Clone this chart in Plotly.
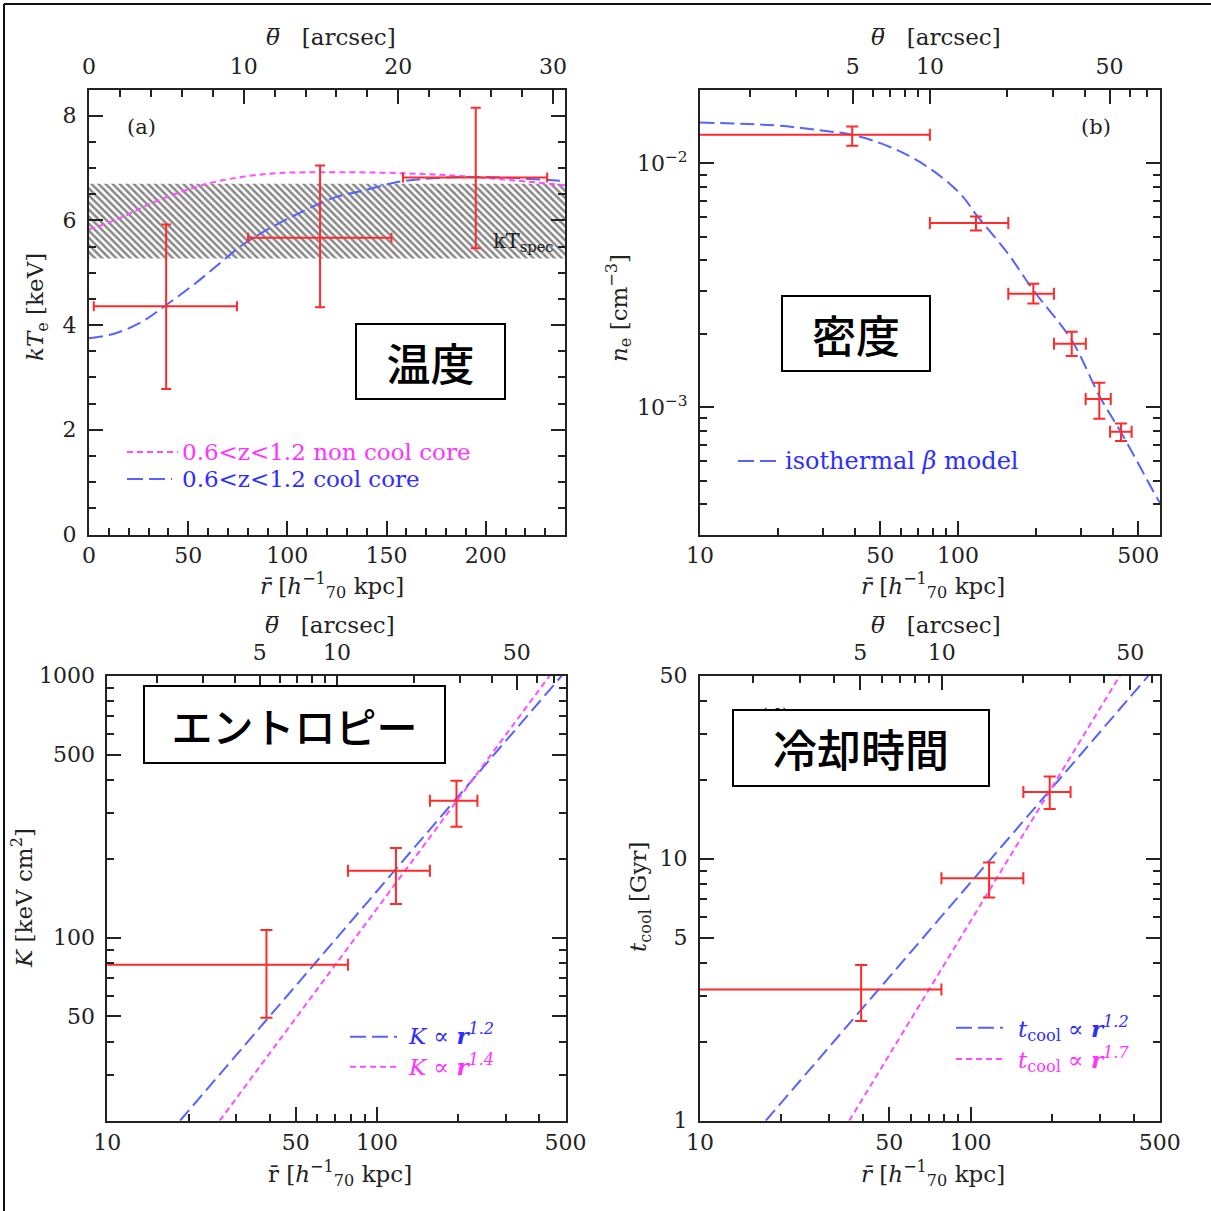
import plotly.graph_objects as go

# ---------------- data ----------------
# Panel (a) temperature profile (linear axes)
a_r = [38.9, 116.5, 195.0]
a_r_lo = [2.4, 80.2, 158.3]
a_r_hi = [74.6, 152.5, 231.0]
a_T = [4.36, 5.67, 6.82]
a_T_lo = [2.78, 4.34, 5.47]
a_T_hi = [5.92, 7.05, 8.15]
a_spec_r = [0, 240]
a_spec_T = [5.27, 6.70]
a_ncc_r = [0, 14.8, 31.6, 48.4, 65.2, 90.4, 116.5, 158.5, 193.8, 240]
a_ncc_T = [5.83, 6.03, 6.33, 6.57, 6.75, 6.89, 6.92, 6.90, 6.83, 6.67]
a_cc_r = [0, 13.1, 26.6, 38.8, 53.4, 66.9, 77.0, 92.1, 105.5, 124.0, 138.3, 158.5, 193.8, 240]
a_cc_T = [3.75, 3.84, 4.06, 4.38, 4.79, 5.21, 5.52, 5.87, 6.13, 6.44, 6.57, 6.75, 6.83, 6.75]

# Panel (b) density profile
b_r = [38.9, 117.4, 195.9, 276, 353, 428.5]
b_r_lo = [1.0, 77.8, 156.7, 235.5, 312.5, 388.6]
b_r_hi = [77.8, 156.7, 235.5, 313, 391, 471]
b_n = [0.01312, 0.00569, 0.00292, 0.00182, 0.00108, 0.000793]
b_n_lo = [0.01183, 0.00531, 0.00266, 0.00162, 0.000896, 0.000726]
b_n_hi = [0.01419, 0.00606, 0.00321, 0.00204, 0.00126, 0.000857]
b_beta_r = [10, 19.5, 29.6, 38.7, 50.6, 64.1, 81.5, 103.3, 118.2, 154.5, 195.9, 276, 355, 431, 597, 607]
b_beta_n = [0.01472, 0.01432, 0.01365, 0.01312, 0.01205, 0.01078, 0.00921, 0.00740, 0.00612,
            0.00433, 0.00302, 0.00188, 0.00110, 0.00078, 0.000416, 0.000405]

# Panel (c) entropy profile
c_r = [38.9, 117.5, 197]
c_r_lo = [1.0, 78, 157]
c_r_hi = [78, 157, 235.6]
c_K = [78.7, 180, 333]
c_K_lo = [49.4, 134.5, 265]
c_K_hi = [107, 220, 397]
c_fit12_r = [18.6, 484]
c_fit12_K = [20, 1000]
c_fit14_r = [26.1, 436.5]
c_fit14_K = [20, 1000]

# Panel (d) cooling time profile
d_r = [39.4, 117, 196]
d_r_lo = [1.0, 78, 156.6]
d_r_hi = [78, 156.6, 234]
d_t = [3.17, 8.42, 18.0]
d_t_lo = [2.40, 7.12, 15.5]
d_t_hi = [3.93, 9.68, 20.6]
d_fit12_r = [17.5, 454]
d_fit12_t = [1, 50]
d_fit17_r = [35.6, 356]
d_fit17_t = [1, 50]

# tick labels
a_xticks = [0, 50, 100, 150, 200]
a_yticks = [0, 2, 4, 6, 8]
a_topticks = [0, 10, 20, 30]
log_rticks = [10, 50, 100, 500]
log_rminor = [20, 30, 40, 60, 70, 80, 90, 200, 300, 400]
log_thticks = [5, 10, 50]
log_thminor = [2, 3, 4, 6, 7, 8, 9, 20, 30, 40, 60, 70]
b_yticks = [1e-2, 1e-3]
b_yticktext = ["10<sup>−2</sup>", "10<sup>−3</sup>"]
b_yminor = [4e-4, 5e-4, 6e-4, 7e-4, 8e-4, 9e-4, 2e-3, 3e-3, 4e-3, 5e-3, 6e-3, 7e-3, 8e-3, 9e-3]
c_yticks = [50, 100, 500, 1000]
c_yminor = [30, 40, 60, 70, 80, 90, 200, 300, 400, 600, 700, 800, 900]
d_yticks = [1, 5, 10, 50]
d_yminor = [2, 3, 4, 6, 7, 8, 9, 20, 30, 40]

# ---------------- styling ----------------
W = H = 1211
def px(x): return x / W
def py(y): return 1 - y / H

RED = "#ff2a2a"
BLUE = "#5563ff"
MAG = "#ff4dff"
BLUE_T = "#2e2eff"
MAG_T = "#ff33ff"
AX = "#222222"
SERIF = "DejaVu Serif"
CJK = "Noto Sans CJK JP"
TICKF = dict(family=SERIF, size=22, color=AX)

fig = go.Figure()

def err_trace(x, xlo, xhi, y, ylo, yhi, xa, ya, capw):
    return go.Scatter(
        x=x, y=y, mode="markers", xaxis=xa, yaxis=ya,
        marker=dict(size=2, color=RED, opacity=0),
        error_x=dict(type="data", symmetric=False,
                     array=[h - v for h, v in zip(xhi, x)],
                     arrayminus=[v - l for l, v in zip(xlo, x)],
                     color=RED, thickness=2, width=capw),
        error_y=dict(type="data", symmetric=False,
                     array=[h - v for h, v in zip(yhi, y)],
                     arrayminus=[v - l for l, v in zip(ylo, y)],
                     color=RED, thickness=2, width=capw),
        showlegend=False, hoverinfo="skip")

# (a) hatched kT_spec band
fig.add_trace(go.Scatter(
    x=[a_spec_r[0], a_spec_r[1], a_spec_r[1], a_spec_r[0], a_spec_r[0]],
    y=[a_spec_T[0], a_spec_T[0], a_spec_T[1], a_spec_T[1], a_spec_T[0]],
    fill="toself", mode="lines", line=dict(width=0, color="rgba(0,0,0,0)"),
    fillcolor="rgba(0,0,0,0)",
    fillpattern=dict(shape="\\", fgcolor="#111111", bgcolor="white", size=5, solidity=0.5),
    xaxis="x", yaxis="y", showlegend=False, hoverinfo="skip"))
fig.add_trace(go.Scatter(x=a_ncc_r, y=a_ncc_T, mode="lines", line=dict(color=MAG, width=2, dash="6px,4px", shape="spline"),
                         xaxis="x", yaxis="y", showlegend=False))
fig.add_trace(go.Scatter(x=a_cc_r, y=a_cc_T, mode="lines", line=dict(color=BLUE, width=2, dash="14px,6px", shape="spline"),
                         xaxis="x", yaxis="y", showlegend=False))
fig.add_trace(err_trace(a_r, a_r_lo, a_r_hi, a_T, a_T_lo, a_T_hi, "x", "y", 5))

# (b)
fig.add_trace(go.Scatter(x=b_beta_r, y=b_beta_n, mode="lines", line=dict(color=BLUE, width=2, dash="14px,6px", shape="spline"),
                         xaxis="x2", yaxis="y2", showlegend=False))
fig.add_trace(err_trace(b_r, b_r_lo, b_r_hi, b_n, b_n_lo, b_n_hi, "x2", "y2", 6))

# (c)
fig.add_trace(go.Scatter(x=c_fit12_r, y=c_fit12_K, mode="lines", line=dict(color=BLUE, width=2, dash="14px,6px"),
                         xaxis="x3", yaxis="y3", showlegend=False))
fig.add_trace(go.Scatter(x=c_fit14_r, y=c_fit14_K, mode="lines", line=dict(color=MAG, width=2, dash="6px,4px"),
                         xaxis="x3", yaxis="y3", showlegend=False))
fig.add_trace(err_trace(c_r, c_r_lo, c_r_hi, c_K, c_K_lo, c_K_hi, "x3", "y3", 6))

# (d)
fig.add_trace(go.Scatter(x=d_fit12_r, y=d_fit12_t, mode="lines", line=dict(color=BLUE, width=2, dash="14px,6px"),
                         xaxis="x4", yaxis="y4", showlegend=False))
fig.add_trace(go.Scatter(x=d_fit17_r, y=d_fit17_t, mode="lines", line=dict(color=MAG, width=2, dash="6px,4px"),
                         xaxis="x4", yaxis="y4", showlegend=False))
fig.add_trace(err_trace(d_r, d_r_lo, d_r_hi, d_t, d_t_lo, d_t_hi, "x4", "y4", 6))

# empty traces to activate top axes
for xa, ya in [("x5", "y"), ("x6", "y2"), ("x7", "y3"), ("x8", "y4")]:
    fig.add_trace(go.Scatter(x=[], y=[], xaxis=xa, yaxis=ya, showlegend=False))

def ax(**kw):
    base = dict(showgrid=False, zeroline=False, showline=True, linecolor=AX, linewidth=2,
                ticks="inside", ticklen=14, tickwidth=1.5, tickcolor=AX, tickfont=TICKF,
                automargin=False)
    base.update(kw)
    return base

def minor(vals):
    return dict(tickmode="array", tickvals=vals, ticks="inside", ticklen=7, tickwidth=1.5, tickcolor=AX, showgrid=False)

dom_a_x = [px(89), px(565)]
dom_b_x = [px(700), px(1160)]
dom_c_x = [px(107.3), px(565.6)]
dom_d_x = [px(700), px(1159.8)]
dom_top_y = [py(534.5), py(89.5)]
dom_bot_y = [py(1120.7), py(675.7)]

fig.update_layout(
    width=W, height=H, margin=dict(l=0, r=0, t=0, b=0, autoexpand=False),
    paper_bgcolor="white", plot_bgcolor="white", showlegend=False,
    # panel (a)
    xaxis=ax(domain=dom_a_x, anchor="y", range=[0, 240], tickmode="array", tickvals=a_xticks,
             minor=minor([v for v in range(10, 240, 10) if v % 50]), ticklabelstandoff=0),
    yaxis=ax(domain=dom_top_y, anchor="x", range=[0, 8.5], tickmode="array", tickvals=a_yticks,
             minor=minor([v / 2 for v in range(1, 17) if v % 4]), mirror="ticks", ticklabelstandoff=6),
    xaxis5=ax(overlaying="x", anchor="y", side="top", range=[0, 30.78], tickmode="array", tickvals=a_topticks,
              minor=minor([v for v in range(2, 31, 2) if v % 10]), ticklabelstandoff=5),
    # panel (b)
    xaxis2=ax(domain=dom_b_x, anchor="y2", type="log", range=[1, 2.783], tickmode="array", tickvals=log_rticks,
              ticktext=[str(v) for v in log_rticks], minor=minor(log_rminor), ticklabelstandoff=0),
    yaxis2=ax(domain=dom_top_y, anchor="x2", type="log", range=[-3.5225, -1.6967], tickmode="array",
              tickvals=b_yticks, ticktext=b_yticktext, minor=minor(b_yminor), mirror="ticks", ticklabelstandoff=6),
    xaxis6=ax(overlaying="x2", anchor="y2", side="top", type="log", range=[0.105, 1.895], tickmode="array",
              tickvals=log_thticks, ticktext=[str(v) for v in log_thticks], minor=minor(log_thminor),
              ticklabelstandoff=5),
    # panel (c)
    xaxis3=ax(domain=dom_c_x, anchor="y3", type="log", range=[1, 2.699], tickmode="array", tickvals=log_rticks,
              ticktext=[str(v) for v in log_rticks], minor=minor(log_rminor), ticklabelstandoff=1),
    yaxis3=ax(domain=dom_bot_y, anchor="x3", type="log", range=[1.301, 3], tickmode="array", tickvals=c_yticks,
              ticktext=[str(v) for v in c_yticks], minor=minor(c_yminor), mirror="ticks", ticklabelstandoff=6),
    xaxis7=ax(overlaying="x3", anchor="y3", side="top", type="log", range=[0.106, 1.8895], tickmode="array",
              tickvals=log_thticks, ticktext=[str(v) for v in log_thticks], minor=minor(log_thminor),
              ticklabelstandoff=5),
    # panel (d)
    xaxis4=ax(domain=dom_d_x, anchor="y4", type="log", range=[1, 2.699], tickmode="array", tickvals=log_rticks,
              ticktext=[str(v) for v in log_rticks], minor=minor(log_rminor), ticklabelstandoff=1),
    yaxis4=ax(domain=dom_bot_y, anchor="x4", type="log", range=[0, 1.699], tickmode="array", tickvals=d_yticks,
              ticktext=[str(v) for v in d_yticks], minor=minor(d_yminor), mirror="ticks", ticklabelstandoff=6),
    xaxis8=ax(overlaying="x4", anchor="y4", side="top", type="log", range=[0.105, 1.808], tickmode="array",
              tickvals=log_thticks, ticktext=[str(v) for v in log_thticks], minor=minor(log_thminor),
              ticklabelstandoff=5),
)

shapes = [
    # outer frame (top and left edges visible)
    dict(type="line", xref="paper", yref="paper", x0=px(4), x1=1.0, y0=py(4), y1=py(4), line=dict(color="#111", width=2)),
    dict(type="line", xref="paper", yref="paper", x0=px(4), x1=px(4), y0=py(4), y1=0, line=dict(color="#111", width=2)),
]

def leg_line(x0, x1, y, color, dash):
    return dict(type="line", xref="paper", yref="paper", x0=px(x0), x1=px(x1), y0=py(y), y1=py(y),
                line=dict(color=color, width=2, dash=dash))

shapes += [
    leg_line(127, 178, 452, MAG, "6px,4px"),
    leg_line(127, 172, 479, BLUE, "16px,6px"),
    leg_line(738, 780, 461, BLUE, "16px,6px"),
    leg_line(350, 397, 1036.7, BLUE, "16px,6px"),
    leg_line(350, 397, 1066.7, MAG, "6px,4px"),
    leg_line(956, 1003, 1027.7, BLUE, "16px,6px"),
    leg_line(956, 1003, 1059, MAG, "6px,4px"),
]
fig.update_layout(shapes=shapes)

def note(x, y, text, color=AX, size=20, family=SERIF, xanchor="center", **kw):
    return dict(xref="paper", yref="paper", x=px(x), y=py(y), text=text, showarrow=False,
                font=dict(family=family, size=size, color=color), xanchor=xanchor, yanchor="middle", **kw)

def jbox(x0, x1, y0, y1, text, size=44):
    return dict(xref="paper", yref="paper", x=px((x0 + x1) / 2), y=py((y0 + y1) / 2), text=text,
                showarrow=False, font=dict(family=CJK, size=size, color="black", weight=500),
                xanchor="center", yanchor="middle", bgcolor="white", bordercolor="black", borderwidth=2,
                borderpad=0, width=x1 - x0 - 4, height=y1 - y0 - 4)

R_TITLE = "<i>r̄</i> [<i>h</i><sup>−1</sup><sub>70</sub> kpc]"
R_TITLE_C = "r̄ [<i>h</i><sup>−1</sup><sub>70</sub> kpc]"
TH_TITLE = "<i>θ̅</i>   [arcsec]"

annotations = [
    # axis titles
    note(331, 37, TH_TITLE, size=23),
    note(332, 585, R_TITLE, size=23),
    note(37, 307, "<i>kT</i><sub>e</sub> [keV]", size=23, textangle=-90),
    note(936, 37, TH_TITLE, size=23),
    note(933, 585, R_TITLE, size=23),
    note(618, 308, "<i>n</i><sub>e</sub> [cm<sup>−3</sup>]", size=23, textangle=-90),
    note(330, 625, TH_TITLE, size=23),
    note(340, 1173, R_TITLE_C, size=23),
    note(22, 898, "<i>K</i> [keV cm<sup>2</sup>]", size=23, textangle=-90),
    note(936, 625, TH_TITLE, size=23),
    note(933, 1173, R_TITLE, size=23),
    note(640, 897, "<i>t</i><sub>cool</sub> [Gyr]", size=23, textangle=-90),
    # panel labels / text
    note(141, 127, "(a)", size=21),
    note(1096, 127, "(b)", size=21),
    note(775, 716, "(d)", size=21),
    note(523, 242, "kT<sub>spec</sub>", size=21),
    note(180, 452, "0.6&lt;z&lt;1.2 non cool core", color=MAG_T, size=23, xanchor="left"),
    note(180, 479, "0.6&lt;z&lt;1.2 cool core", color=BLUE_T, size=23, xanchor="left"),
    note(783, 461, "isothermal <i>β</i> model", color=BLUE_T, size=24, xanchor="left"),
    note(406, 1034, "<i>K</i> ∝ <i><b>r</b></i><sup><i>1.2</i></sup>", color=BLUE_T, size=23, xanchor="left"),
    note(406, 1065, "<i>K</i> ∝ <i><b>r</b></i><sup><i>1.4</i></sup>", color=MAG_T, size=23, xanchor="left"),
    note(1016, 1028, "<i>t</i><sub>cool</sub> ∝ <i><b>r</b></i><sup><i>1.2</i></sup>", color=BLUE_T, size=23, xanchor="left"),
    note(1016, 1059, "<i>t</i><sub>cool</sub> ∝ <i><b>r</b></i><sup><i>1.7</i></sup>", color=MAG_T, size=23, xanchor="left"),
    # Japanese labels in boxes
    jbox(355, 506, 323, 400, "温度"),
    jbox(781, 931, 295, 372, "密度"),
    jbox(143, 446, 685, 764, "エントロピー", size=41),
    jbox(732, 990, 709, 787, "冷却時間"),
]
fig.update_layout(annotations=annotations)

POST = ("document.documentElement.style.margin='0';document.documentElement.style.padding='0';"
        "document.body.style.margin='0';document.body.style.padding='0';"
        "document.documentElement.style.overflow='hidden';document.body.style.overflow='hidden';")

fig.write_html("out.html", config={"displayModeBar": False}, post_script=POST)
